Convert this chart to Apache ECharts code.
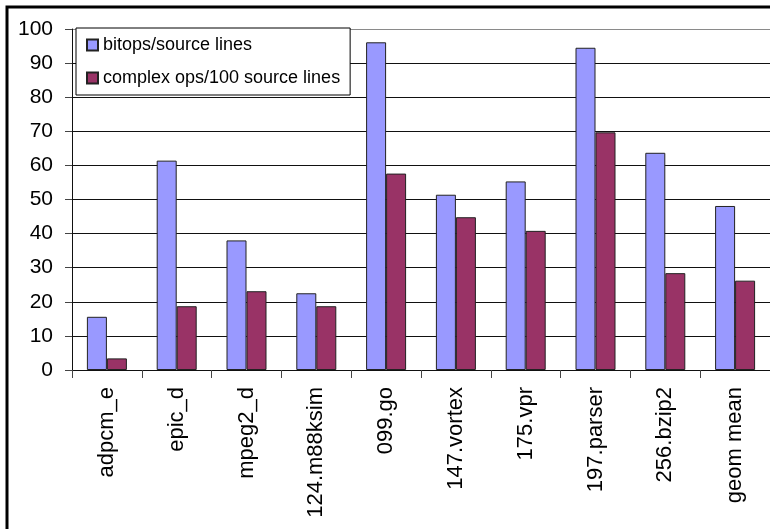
<!DOCTYPE html>
<html>
<head>
<meta charset="utf-8">
<script src="https://cdn.jsdelivr.net/npm/echarts@6/dist/echarts.min.js"></script>
<style>
html,body{margin:0;padding:0;background:#fff;}
#chart{width:770px;height:529px;}
</style>
</head>
<body>
<div id="chart"></div>
<script>
var categories = ['adpcm_e','epic_d','mpeg2_d','124.m88ksim','099.go','147.vortex','175.vpr','197.parser','256.bzip2','geom mean'];
var bitopsPerSourceLines = [15.6, 61.4, 38.0, 22.5, 96.1, 51.4, 55.3, 94.5, 63.7, 48.1];
var complexOpsPer100Lines = [3.4, 18.7, 23.1, 18.7, 57.6, 44.8, 40.8, 69.7, 28.4, 26.2];
var seriesNames = ['bitops/source lines', 'complex ops/100 source lines'];
var yTicks = [0,10,20,30,40,50,60,70,80,90,100];

var FONT = '"Liberation Sans", Arial, Helvetica, sans-serif';
var chart = echarts.init(document.getElementById('chart'), null, {renderer:'canvas'});
var gridColors = yTicks.map(function(v){ return v === 100 ? '#8a8a8a' : '#111'; });

chart.setOption({
  animation: false,
  backgroundColor: '#fff',
  graphic: [{
    type: 'rect', z: 100, silent: true,
    shape: {x: 7, y: 7, width: 820, height: 600},
    style: {fill: 'none', stroke: '#000', lineWidth: 3}
  }],
  grid: {left: 72, top: 29, right: -2, bottom: 159, containLabel: false},
  legend: {
    orient: 'vertical', left: 76, top: 28,
    padding: [7, 10, 7, 10],
    itemGap: 13, itemWidth: 11, itemHeight: 11, itemTextGap: 5,
    backgroundColor: '#fff', borderColor: '#000', borderWidth: 1,
    textStyle: {fontFamily: FONT, fontSize: 18, color: '#000', lineHeight: 20},
    data: seriesNames.map(function(n){ return {name: n, icon: 'rect'}; })
  },
  xAxis: {
    type: 'category', data: categories,
    axisLine: {show: true, lineStyle: {color: '#111', width: 1}},
    axisTick: {show: true, length: 8, alignWithLabel: false, lineStyle: {color: '#444'}},
    axisLabel: {rotate: 90, interval: 0, margin: 17, fontFamily: FONT, fontSize: 22, color: '#000'},
    splitLine: {show: false}
  },
  yAxis: {
    type: 'value', min: 0, max: 100, interval: 10,
    axisLine: {show: true, lineStyle: {color: '#111', width: 1}},
    axisTick: {show: true, length: 7, lineStyle: {color: '#444'}},
    axisLabel: {margin: 19, fontFamily: FONT, fontSize: 21, color: '#000'},
    splitLine: {show: true, lineStyle: {color: gridColors, width: 1}}
  },
  series: [{
    name: seriesNames[0], type: 'bar', data: bitopsPerSourceLines,
    barWidth: 20, barGap: '0%',
    itemStyle: {color: '#9999FF', borderColor: '#222', borderWidth: 1}
  }, {
    name: seriesNames[1], type: 'bar', data: complexOpsPer100Lines,
    barWidth: 20, barGap: '0%',
    itemStyle: {color: '#993366', borderColor: '#222', borderWidth: 1}
  }]
});
</script>
</body>
</html>
